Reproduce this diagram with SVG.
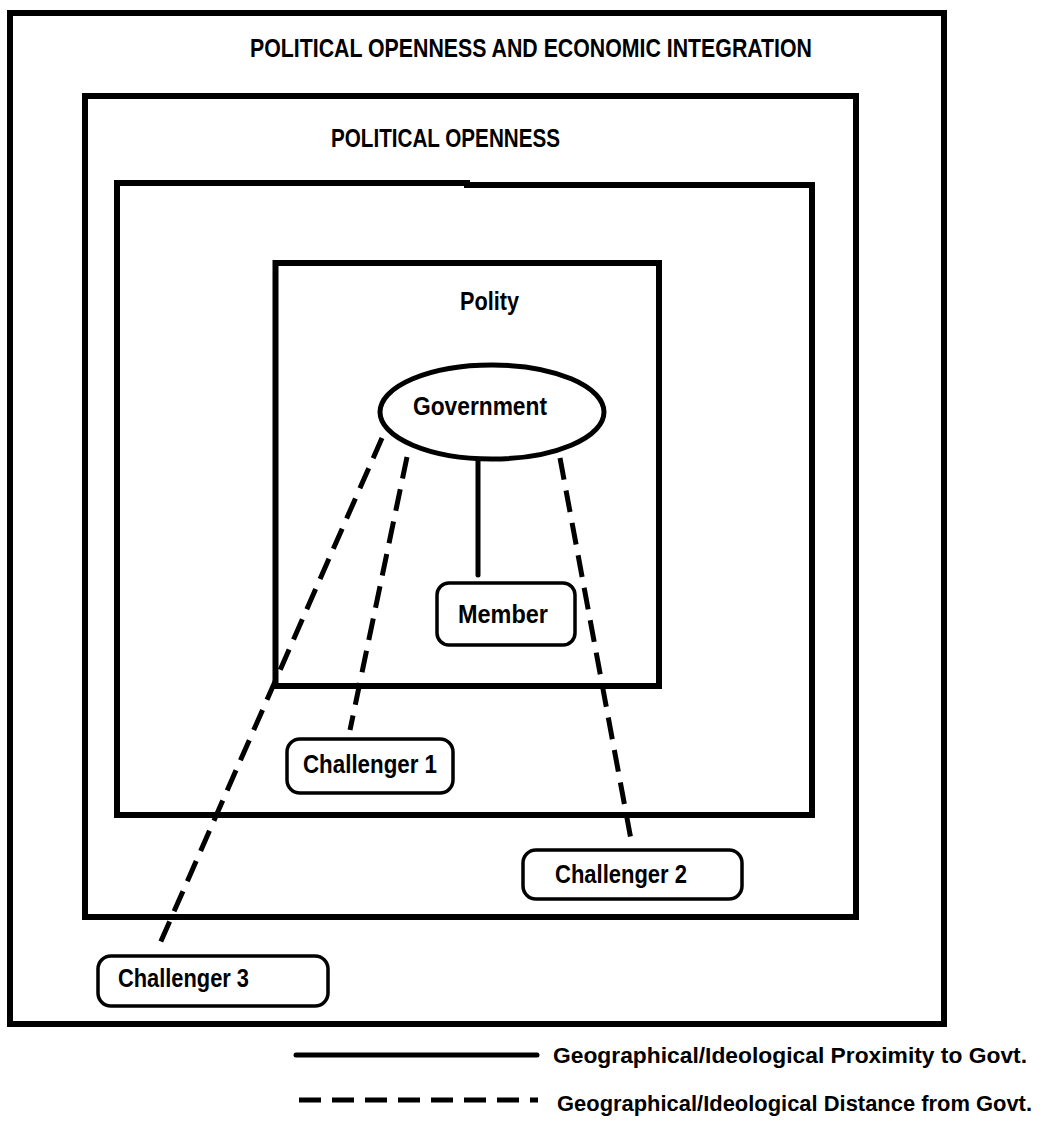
<svg xmlns="http://www.w3.org/2000/svg" width="1043" height="1121" viewBox="0 0 1043 1121">
<style>
.frame{fill:none;stroke:#000;stroke-width:6}
.node{fill:#fff;stroke:#000;stroke-width:3.5}
.t{font-family:"Liberation Sans",Arial,sans-serif;font-weight:bold;font-size:26px;fill:#000}
.lg{font-size:22px}
.solid{stroke:#000;stroke-width:5;fill:none;stroke-linecap:round}
.dash{stroke:#000;stroke-width:5;fill:none;stroke-dasharray:22 11}
</style>
<rect width="1043" height="1121" fill="#fff"/>
<g id="outer">
<rect class="frame" x="10" y="13" width="934" height="1011"/>
<text class="t" x="250" y="57" textLength="562" lengthAdjust="spacingAndGlyphs">POLITICAL OPENNESS AND ECONOMIC INTEGRATION</text>
</g>
<g id="political-openness">
<rect class="frame" x="85" y="96" width="771" height="821"/>
<text class="t" x="331" y="147" textLength="229" lengthAdjust="spacingAndGlyphs">POLITICAL OPENNESS</text>
</g>
<g id="inner-box">
<path class="frame" d="M117,183 H467 V185 H812 V815 H117 Z"/>
</g>
<g id="polity">
<rect class="frame" x="275.5" y="263" width="383.5" height="423" stroke-width="5"/>
<text class="t" x="460" y="310" textLength="59" lengthAdjust="spacingAndGlyphs">Polity</text>
</g>
<g id="connectors">
<line class="solid" x1="478" y1="460" x2="478" y2="575"/>
<line class="dash" x1="382" y1="438" x2="158" y2="948"/>
<line class="dash" x1="407" y1="457" x2="350" y2="730"/>
<line class="dash" x1="560" y1="458" x2="632" y2="845"/>
</g>
<g id="government">
<ellipse cx="492" cy="412" rx="112" ry="47" fill="#fff" stroke="#000" stroke-width="5"/>
<text class="t" x="413" y="415" textLength="134" lengthAdjust="spacingAndGlyphs">Government</text>
</g>
<g id="member">
<rect class="node" x="437" y="583" width="138" height="62" rx="12"/>
<text class="t" x="458" y="623" textLength="90" lengthAdjust="spacingAndGlyphs">Member</text>
</g>
<g id="challenger1">
<rect class="node" x="287" y="739" width="166" height="54" rx="13"/>
<text class="t" x="303" y="773" textLength="134" lengthAdjust="spacingAndGlyphs">Challenger  1</text>
</g>
<g id="challenger2">
<rect class="node" x="523" y="850" width="219" height="49" rx="13"/>
<text class="t" x="555" y="883" textLength="132" lengthAdjust="spacingAndGlyphs">Challenger 2</text>
</g>
<g id="challenger3">
<rect class="node" x="98" y="956" width="230" height="50" rx="13"/>
<text class="t" x="118" y="987" textLength="131" lengthAdjust="spacingAndGlyphs">Challenger 3</text>
</g>
<g id="legend">
<line class="solid" x1="296" y1="1055" x2="537" y2="1055" stroke-width="6"/>
<text class="t lg" x="553" y="1063" textLength="474" lengthAdjust="spacingAndGlyphs">Geographical/Ideological Proximity to Govt.</text>
<line class="dash" x1="299" y1="1100" x2="538" y2="1100" stroke-width="6" stroke-dasharray="20 11"/>
<text class="t lg" x="557" y="1111" textLength="475" lengthAdjust="spacingAndGlyphs">Geographical/Ideological Distance from Govt.</text>
</g>
</svg>
